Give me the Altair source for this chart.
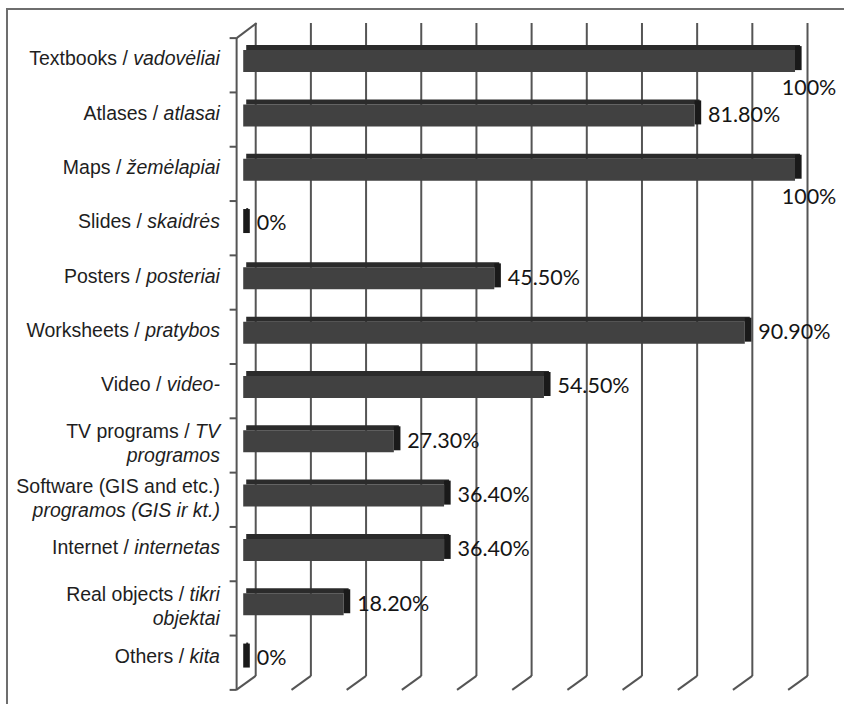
import altair as alt
import pandas as pd

# ---------------- data ----------------
label_regular = ["Textbooks /", "Atlases /", "Maps /", "Slides /", "Posters /",
                 "Worksheets /", "Video /", "TV programs /", "Software (GIS and etc.)",
                 "Internet /", "Real objects /", "Others /"]
label_italic = ["vadovėliai", "atlasai", "žemėlapiai", "skaidrės", "posteriai",
                "pratybos", "video-", "TV", "", "internetas", "tikri", "kita"]
label_italic_line2 = ["", "", "", "", "", "", "", "programos", "programos (GIS ir kt.)",
                      "", "objektai", ""]
values = [100, 81.8, 100, 0, 45.5, 90.9, 54.5, 27.3, 36.4, 36.4, 18.2, 0]
value_labels = ["100%", "81.80%", "100%", "0%", "45.50%", "90.90%", "54.50%",
                "27.30%", "36.40%", "36.40%", "18.20%", "0%"]
grid_ticks = [0, 10, 20, 30, 40, 50, 60, 70, 80, 90, 100]

# ---------------- layout constants ----------------
W_PLOT = 552
H_PLOT = 652
PX = W_PLOT / 100.0
FS_LABEL = 19.5
LABEL_RIGHT = -23.3
GRID = "#555555"

# Arial / Liberation Sans advance widths (1/1000 em)
ARIAL = {' ': 278, '/': 278, '(': 333, ')': 333, '.': 278, '-': 333,
         'A': 667, 'G': 778, 'I': 278, 'M': 833, 'O': 778, 'P': 667, 'R': 722,
         'S': 667, 'T': 611, 'V': 667, 'W': 944,
         'a': 556, 'b': 556, 'c': 500, 'd': 556, 'e': 556, 'f': 278, 'g': 556,
         'h': 556, 'i': 222, 'j': 222, 'k': 500, 'l': 222, 'm': 833, 'n': 556,
         'o': 556, 'p': 556, 'q': 556, 'r': 333, 's': 500, 't': 278, 'u': 556,
         'v': 500, 'w': 722, 'x': 500, 'y': 500, 'z': 500, 'ė': 556, 'ž': 500}


def text_width(s):
    return sum(ARIAL.get(c, 556) for c in s) / 1000.0 * FS_LABEL


n = len(values)
bars = pd.DataFrame({"row": list(range(n)), "value": values, "label": value_labels})

rows = []
for i in range(n):
    two = bool(label_italic_line2[i])
    gap = text_width(label_italic[i]) + (text_width(" ") if label_italic[i] else 0)
    rows.append({"row": i, "pos": 0.37 if two else 0.5, "reg": label_regular[i],
                 "ital": label_italic[i], "gap": gap})
    if two:
        rows.append({"row": i, "pos": 0.81, "reg": "", "ital": label_italic_line2[i], "gap": 0.0})
labels = pd.DataFrame(rows)

grid_df = pd.DataFrame({"t": grid_ticks})
bound_df = pd.DataFrame({"b": list(range(n + 1))})
one = pd.DataFrame({"k": [0]})

xs = alt.Scale(domain=[0, 100], nice=False, zero=False)
ys = alt.Scale(domain=[0, n], reverse=True, nice=False, zero=False)


def X(f):
    return alt.X(f"{f}:Q", scale=xs, axis=None)


def Y(f):
    return alt.Y(f"{f}:Q", scale=ys, axis=None)


# frame
frame_top = alt.Chart(one).mark_rule(color="#6e6e6e", strokeWidth=2).encode(
    x=alt.value(-237), x2=alt.value(640), y=alt.value(-29))
frame_left = alt.Chart(one).mark_rule(color="#6e6e6e", strokeWidth=2).encode(
    x=alt.value(-236.3), y=alt.value(-30), y2=alt.value(700))

# back wall gridlines + floor slants
back = alt.Chart(grid_df).mark_rule(color=GRID, strokeWidth=2, xOffset=12.5).encode(
    x=X("t"), y=alt.value(-15), y2=alt.value(638))
floor = alt.Chart(grid_df).mark_rule(color=GRID, strokeWidth=2, xOffset=12.5, x2Offset=-6.9).encode(
    x=X("t"), x2=alt.X2("t"), y=alt.value(638), y2=alt.value(652))

# left wall
wall = alt.Chart(one).mark_rule(color=GRID, strokeWidth=2).encode(
    x=alt.value(-6.6), y=alt.value(0), y2=alt.value(652))
wall_top = alt.Chart(one).mark_rule(color=GRID, strokeWidth=2).encode(
    x=alt.value(-6.6), x2=alt.value(13.4), y=alt.value(0), y2=alt.value(-15))
wall_ticks = alt.Chart(bound_df).mark_rule(color=GRID, strokeWidth=2).encode(
    x=alt.value(-13.6), x2=alt.value(-6.6), y=Y("b"))

# bars (3D look)
base = alt.Chart(bars).transform_calculate(zero="0")
front = base.mark_rect(color="#414141", yOffset=12, y2Offset=34).encode(
    x=X("zero"), x2=alt.X2("value"), y=Y("row"), y2=alt.Y2("row"))
topf = base.mark_rect(color="#2b2b2b", xOffset=3, x2Offset=5, yOffset=7, y2Offset=12).encode(
    x=X("zero"), x2=alt.X2("value"), y=Y("row"), y2=alt.Y2("row"))
side = base.mark_rect(color="#1a1a1a", x2Offset=6.6, yOffset=8, y2Offset=32).encode(
    x=X("value"), x2=alt.X2("value"), y=Y("row"), y2=alt.Y2("row"))

# value labels
val_in = alt.Chart(bars).transform_filter("datum.value < 100").transform_calculate(
    yl="datum.row + 0.43").mark_text(
    align="left", baseline="middle", dx=13.5, font="Lato", fontSize=21.5, color="#151515").encode(
    x=X("value"), y=Y("yl"), text="label:N")
val_full = alt.Chart(bars).transform_filter("datum.value >= 100").transform_calculate(
    yl="datum.row + 0.94").mark_text(
    align="left", baseline="middle", dx=-13.3, font="Lato", fontSize=21.5, color="#151515").encode(
    x=X("value"), y=Y("yl"), text="label:N")

# category labels (regular + italic parts)
lab_it = alt.Chart(labels).transform_calculate(yl="datum.row + datum.pos").mark_text(
    align="right", baseline="alphabetic", font="Liberation Sans", fontStyle="italic",
    fontSize=FS_LABEL, color="#1e1e1e").encode(
    x=alt.value(LABEL_RIGHT), y=Y("yl"), text="ital:N")
lab_reg = alt.Chart(labels).transform_calculate(
    yl="datum.row + datum.pos",
    xr=f"({LABEL_RIGHT} - datum.gap) / {PX}").mark_text(
    align="right", baseline="alphabetic", font="Liberation Sans",
    fontSize=FS_LABEL, color="#1e1e1e").encode(
    x=X("xr"), y=Y("yl"), text="reg:N")

chart = alt.layer(
    frame_top, frame_left, back, floor, wall, wall_top, wall_ticks,
    front, topf, side, val_in, val_full, lab_it, lab_reg
).properties(
    width=W_PLOT, height=H_PLOT,
    autosize=alt.AutoSizeParams(type="none"),
    padding={"left": 243.3, "top": 38, "right": 49, "bottom": 14},
    background="white",
).configure_view(strokeWidth=0)

chart.save("out.html", embed_options={"renderer": "svg", "actions": False})
